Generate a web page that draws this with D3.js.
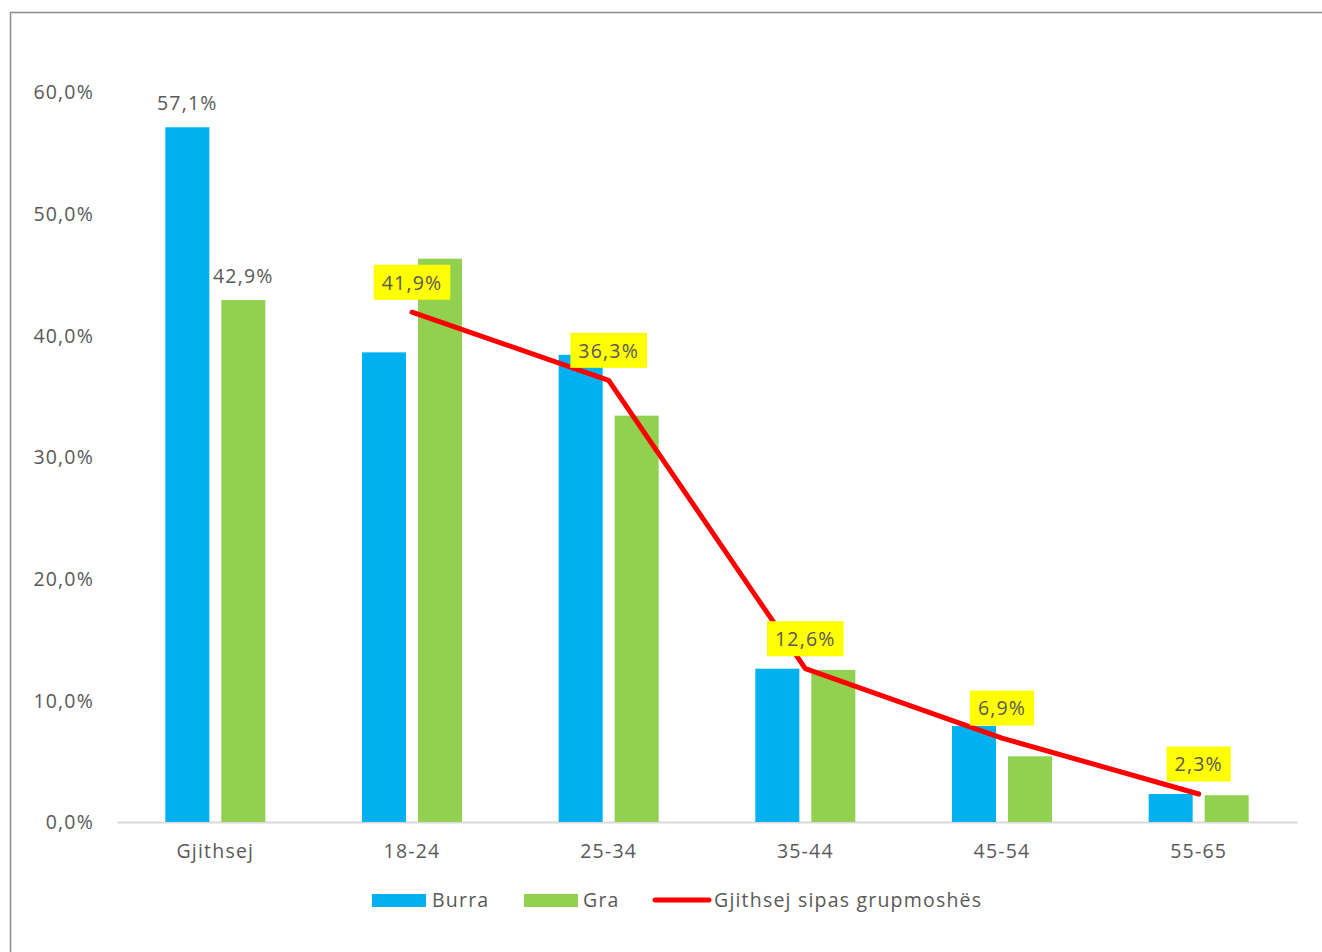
<!DOCTYPE html>
<html>
<head>
<meta charset="utf-8">
<script src="https://cdn.jsdelivr.net/npm/d3@7"></script>
<style>
  body { margin: 0; background: #fff; }
  text { font-family: "Open Sans", "DejaVu Sans", sans-serif; fill: #595959; font-size: 19.5px; letter-spacing: 1.2px; }
</style>
</head>
<body>
<div id="chart"></div>
<script>
// Data
const categories = ['Gjithsej', '18-24', '25-34', '35-44', '45-54', '55-65'];
const burra = [57.1, 38.6, 38.4, 12.6, 7.9, 2.3];
const gra = [42.9, 46.3, 33.4, 12.5, 5.4, 2.2];
const lineCats = ['18-24', '25-34', '35-44', '45-54', '55-65'];
const lineValues = [41.9, 36.3, 12.6, 6.9, 2.3];
const yTicks = [0, 10, 20, 30, 40, 50, 60];
const barLabelCats = ['Gjithsej'];

const chart = {
    totalWidth: 1322,
    totalHeight: 952,
    left: 117,
    right: 1297,
    top: 92,
    bottom: 822
};

const fmt = v => d3.format('.1f')(v).replace('.', ',') + '%';

const svg = d3.select('#chart')
    .append('svg')
    .attr('width', chart.totalWidth)
    .attr('height', chart.totalHeight);

// outer frame
svg.append('path')
    .attr('d', `M10.5,${chart.totalHeight} V12.5 H${chart.totalWidth}`)
    .attr('fill', 'none')
    .attr('stroke', '#8c8c8c')
    .attr('stroke-width', 1.5);

// Scales
const xScale = d3.scaleBand()
    .domain(categories)
    .range([chart.left, chart.right]);

const yScale = d3.scaleLinear()
    .domain([0, 60])
    .range([chart.bottom, chart.top]);

const barW = 44, barGap = 12;

// Y-axis labels
svg.append('g')
    .classed('y-axis', true)
    .selectAll('text')
    .data(yTicks)
    .enter()
    .append('text')
    .attr('x', 94)
    .attr('y', d => yScale(d))
    .attr('dy', '0.38em')
    .attr('text-anchor', 'end')
    .text(d => fmt(d));

// X-axis
const xAxis = d3.axisBottom(xScale).tickSize(0).tickPadding(22);
const gx = svg.append('g')
    .classed('x-axis', true)
    .attr('transform', `translate(0, ${chart.bottom})`)
    .call(xAxis);
gx.attr('font-size', null).attr('font-family', null);
gx.select('.domain').attr('stroke', '#d9d9d9').attr('stroke-width', 2);
gx.selectAll('text').attr('fill', '#595959');

// Bars
const groups = [
    { id: 'Burra', values: burra, color: '#00B0F0', offset: -(barGap / 2 + barW) },
    { id: 'Gra', values: gra, color: '#92D050', offset: barGap / 2 }
];

groups.forEach(g => {
    svg.append('g')
        .classed('bars-' + g.id, true)
        .selectAll('rect')
        .data(categories.map((c, i) => ({ cat: c, value: g.values[i] })))
        .enter()
        .append('rect')
        .attr('x', d => xScale(d.cat) + xScale.bandwidth() / 2 + g.offset)
        .attr('y', d => yScale(d.value))
        .attr('width', barW)
        .attr('height', d => chart.bottom - yScale(d.value))
        .attr('fill', g.color);

    // value labels for the total category
    svg.append('g')
        .selectAll('text')
        .data(categories.map((c, i) => ({ cat: c, value: g.values[i] })).filter(d => barLabelCats.includes(d.cat)))
        .enter()
        .append('text')
        .attr('x', d => xScale(d.cat) + xScale.bandwidth() / 2 + g.offset + barW / 2)
        .attr('y', d => yScale(d.value) - 17)
        .attr('text-anchor', 'middle')
        .text(d => fmt(d.value));
});

// Line
const lineData = lineCats.map((c, i) => ({ cat: c, value: lineValues[i] }));
const line = d3.line()
    .x(d => xScale(d.cat) + xScale.bandwidth() / 2)
    .y(d => yScale(d.value));

svg.append('path')
    .datum(lineData)
    .attr('d', line)
    .attr('fill', 'none')
    .attr('stroke', '#FF0000')
    .attr('stroke-width', 5)
    .attr('stroke-linejoin', 'round')
    .attr('stroke-linecap', 'round');

// Line labels in yellow boxes
const lbl = svg.append('g')
    .selectAll('g')
    .data(lineData)
    .enter()
    .append('g')
    .attr('transform', d => `translate(${xScale(d.cat) + xScale.bandwidth() / 2}, ${yScale(d.value) - 30})`);

lbl.append('rect').attr('fill', '#FFFF00');
lbl.append('text')
    .attr('text-anchor', 'middle')
    .attr('dy', '0.38em')
    .text(d => fmt(d.value));
lbl.each(function() {
    const t = d3.select(this).select('text').node().getBBox();
    d3.select(this).select('rect')
        .attr('x', -t.width / 2 - 8)
        .attr('y', -17.5)
        .attr('width', t.width + 16)
        .attr('height', 35);
});

// Legend
const legend = svg.append('g').classed('legend', true);
legend.append('rect').attr('x', 372).attr('y', 894).attr('width', 54).attr('height', 13).attr('fill', '#00B0F0');
legend.append('text').attr('x', 432).attr('y', 900).attr('dy', '0.38em').text('Burra');
legend.append('rect').attr('x', 524).attr('y', 894).attr('width', 54).attr('height', 13).attr('fill', '#92D050');
legend.append('text').attr('x', 583).attr('y', 900).attr('dy', '0.38em').text('Gra');
legend.append('line').attr('x1', 655).attr('x2', 709).attr('y1', 900).attr('y2', 900)
    .attr('stroke', '#FF0000').attr('stroke-width', 5).attr('stroke-linecap', 'round');
legend.append('text').attr('x', 714).attr('y', 900).attr('dy', '0.38em').text('Gjithsej sipas grupmoshës');
</script>
</body>
</html>
